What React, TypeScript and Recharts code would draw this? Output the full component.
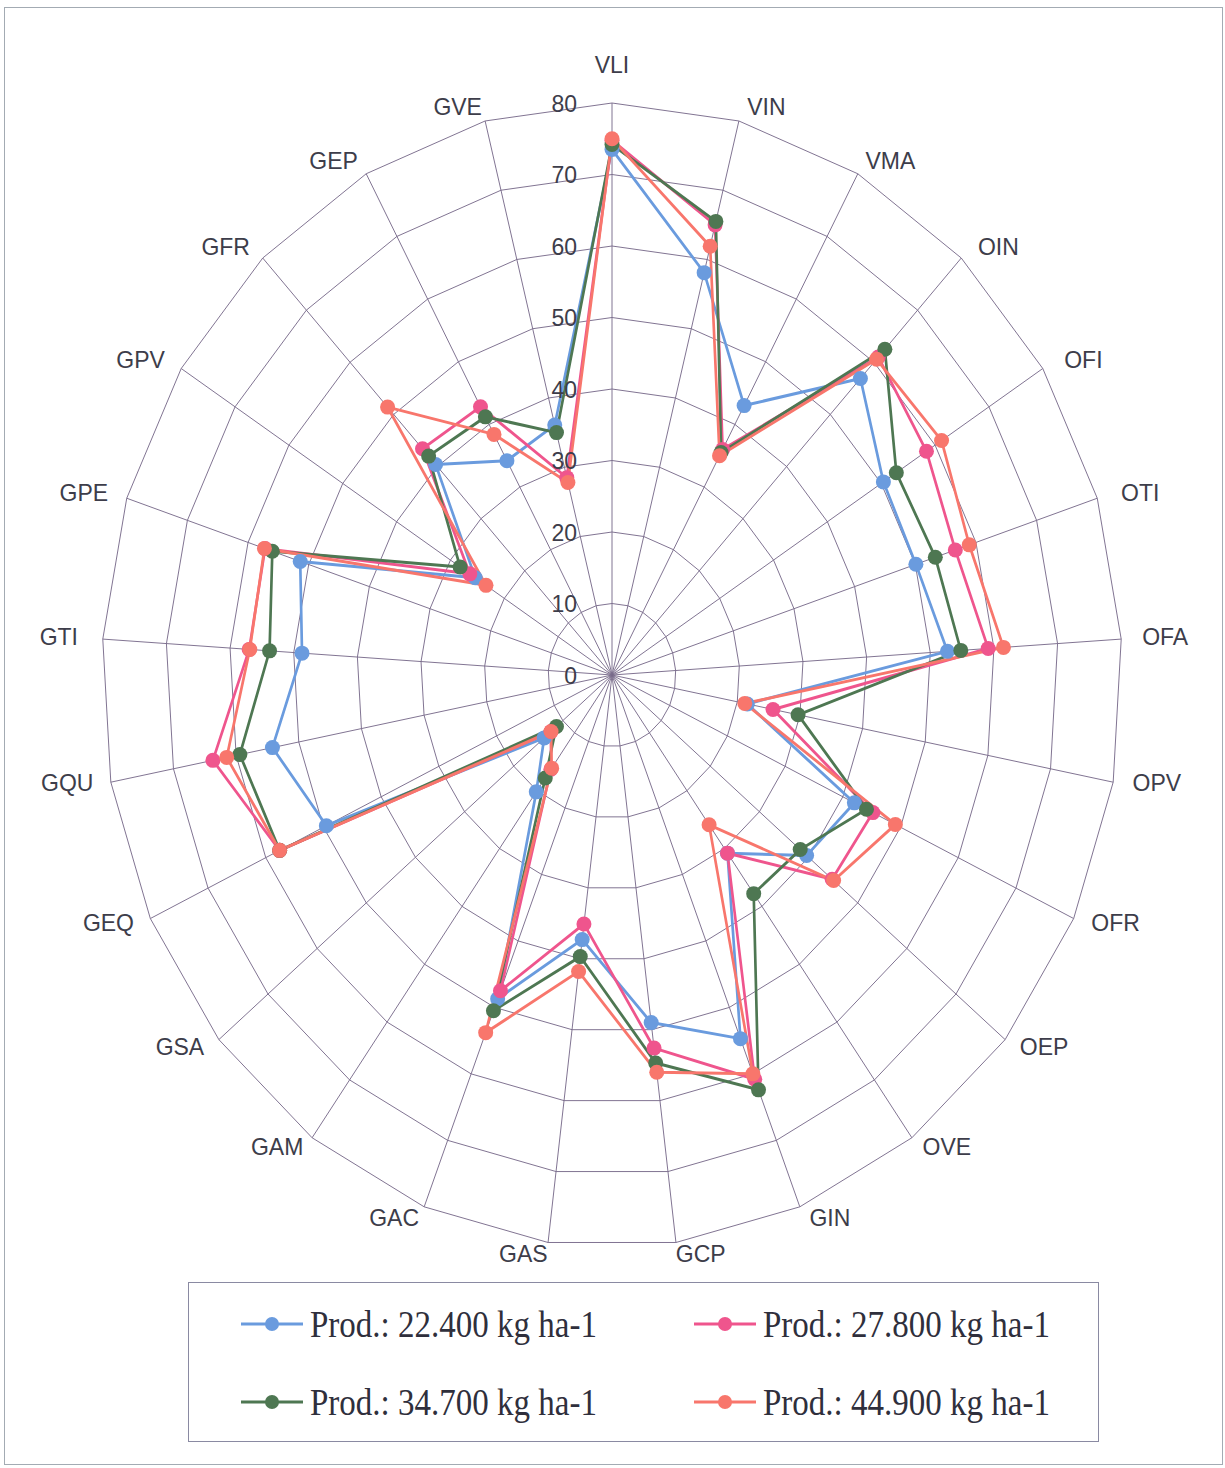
import React from 'react';
import { RadarChart, Radar, PolarGrid, PolarAngleAxis, PolarRadiusAxis } from 'recharts';

// ---- data ----
const categories = ['VLI', 'VIN', 'VMA', 'OIN', 'OFI', 'OTI', 'OFA', 'OPV', 'OFR', 'OEP', 'OVE', 'GIN', 'GCP', 'GAS', 'GAC', 'GAM', 'GSA', 'GEQ', 'GQU', 'GTI', 'GPE', 'GPV', 'GFR', 'GEP', 'GVE'];
const radiusTicks = [0, 10, 20, 30, 40, 50, 60, 70, 80];
const seriesNames = ['Prod.: 22.400 kg ha-1', 'Prod.: 27.800 kg ha-1', 'Prod.: 34.700 kg ha-1', 'Prod.: 44.900 kg ha-1'];
const prod22400 = [73.5, 58.1, 43, 56.9, 50.4, 50.1, 52.7, 21.6, 42, 39.6, 30.8, 54.7, 49, 37.3, 48.7, 20.2, 13.8, 49.5, 54.2, 48.7, 51.4, 25.4, 40.4, 34.2, 36.1];
const prod27800 = [74.8, 65, 36, 61, 58.4, 56.6, 59.1, 25.7, 45.2, 44.8, 30.8, 60.8, 52.6, 35.1, 47.5, 16.3, 12.4, 57.6, 63.7, 57, 57.2, 26.4, 43.4, 42.8, 28.5];
const prod34700 = [74.2, 65.5, 35.5, 62.5, 52.8, 53.3, 54.8, 29.7, 44.1, 38.3, 37.8, 62.4, 54.7, 39.7, 50.5, 17.8, 11.3, 57.6, 59.4, 53.8, 56, 28.2, 42, 41.2, 35];
const prod44900 = [75, 61.9, 35, 60.6, 61.2, 58.9, 61.5, 21.2, 49.1, 45.1, 25.9, 60, 56, 41.8, 53.8, 16.1, 12.4, 57.6, 61.5, 56.9, 57.3, 23.4, 51.4, 38.4, 27.8];
const seriesColors = ['#6a9bde', '#ef558d', '#4e7752', '#f8766c'];
const seriesKeys = ['s1', 's2', 's3', 's4'];
const seriesValues = [prod22400, prod27800, prod34700, prod44900];

const data = categories.map((cat, i) => {
  const row: any = { cat };
  seriesKeys.forEach((k, j) => { row[k] = seriesValues[j][i]; });
  return row;
});

// ---- layout ----
const SCX = 612; // centre on screen
const PCX = 720; // centre inside the (pre-squash) chart
const CW = 1440; // chart width before squash
const CY = 675;
const R = 572;
const SX = 0.892; // horizontal squash of the original (elliptical) chart
const TEXT_VS = 1.07;
const TEXT_COLOR = '#3d3d4a';
const GRID_COLOR = '#7a6c8c';

function AngleTick(props: any) {
  const { x, y, payload } = props;
  const ang = Math.atan2(CY - y, x - PCX);
  const c = Math.cos(ang);
  const s = Math.sin(ang);
  const vx = SCX + SX * R * c;
  const vy = CY - R * s;
  let dx: number;
  let dy: number;
  if (Math.abs(c) < 0.02) {
    dx = 0;
    dy = s > 0 ? -39 : 39;
  } else {
    dx = Math.sign(c) * 22 + c * 22;
    dy = -s * 13 - 2;
  }
  const lx = vx + dx;
  const ly = vy + dy;
  const preX = PCX + (lx - SCX) / SX;
  return (
    <g transform={`translate(${preX},${ly}) scale(${1 / SX},${TEXT_VS})`}>
      <text x={0} y={0} textAnchor="middle" dominantBaseline="central" fontSize={23} fill={TEXT_COLOR} fontFamily="'Liberation Sans', Arial, sans-serif">
        {payload.value}
      </text>
    </g>
  );
}

function RadiusTick(props: any) {
  const { x, y, payload } = props;
  const preX = x - 35 / SX;
  return (
    <g transform={`translate(${preX},${y}) scale(${1 / SX},${TEXT_VS})`}>
      <text x={0} y={0} textAnchor="end" dominantBaseline="central" fontSize={23} fill={TEXT_COLOR} fontFamily="'Liberation Sans', Arial, sans-serif">
        {payload.value}
      </text>
    </g>
  );
}

const makeDot = (color: string) => (p: any) => (
  <ellipse key={`dot-${color}-${p.index}`} cx={p.cx} cy={p.cy} rx={7.5 / SX} ry={7.5} fill={color} stroke="none" />
);

export default function App() {
  return (
    <div style={{ position: 'absolute', left: 0, top: 0, width: 1225, height: 1468, background: '#ffffff', overflow: 'hidden' }}>
      <div style={{ position: 'absolute', left: 4, top: 7, width: 1219, height: 1458, border: '1.5px solid #a3abb3', boxSizing: 'border-box' }} />
      <div style={{ position: 'absolute', left: SCX - PCX, top: 0, width: CW, height: 1300, transform: `scaleX(${SX})`, transformOrigin: `${PCX}px 0px` }}>
        <RadarChart
          width={CW}
          height={1300}
          cx={PCX}
          cy={CY}
          outerRadius={R}
          startAngle={90}
          endAngle={-270}
          margin={{ top: 0, right: 0, bottom: 0, left: 0 }}
          data={data}
        >
          <PolarGrid gridType="polygon" stroke={GRID_COLOR} strokeWidth={1} strokeOpacity={1} />
          <PolarAngleAxis dataKey="cat" tick={AngleTick} tickLine={false} axisLine={false} />
          <PolarRadiusAxis
            angle={90}
            domain={[0, 80]}
            tickCount={radiusTicks.length}
            ticks={radiusTicks as any}
            tick={RadiusTick}
            axisLine={false}
            tickLine={false}
            type="number"
          />
          {seriesKeys.map((k, j) => (
            <Radar
              key={k}
              name={seriesNames[j]}
              dataKey={k}
              stroke={seriesColors[j]}
              strokeWidth={3}
              strokeLinejoin="round"
              fill="none"
              fillOpacity={0}
              dot={makeDot(seriesColors[j])}
              isAnimationActive={false}
            />
          ))}
        </RadarChart>
      </div>
      <div style={{ position: 'absolute', left: 188, top: 1282, width: 911, height: 160, border: '1px solid #8a8aa2', boxSizing: 'border-box', background: '#fff' }}>
        {seriesNames.map((name, i) => {
          const col = i % 2;
          const row = Math.floor(i / 2);
          const left = col ? 505 : 52;
          const top = row ? 119 : 41;
          return (
            <div key={name} style={{ position: 'absolute', left, top: top - 22, height: 44, display: 'flex', alignItems: 'center', whiteSpace: 'nowrap' }}>
              <svg width={62} height={20} style={{ display: 'block' }}>
                <line x1={0} y1={10} x2={62} y2={10} stroke={seriesColors[i]} strokeWidth={3} />
                <circle cx={31} cy={10} r={7} fill={seriesColors[i]} />
              </svg>
              <span style={{ marginLeft: 7, fontFamily: "'Liberation Serif', 'Times New Roman', serif", fontSize: 33, lineHeight: 1, color: '#2f2f3c', display: 'inline-block', transform: 'scaleY(1.15)' }}>
                {name}
              </span>
            </div>
          );
        })}
      </div>
    </div>
  );
}
